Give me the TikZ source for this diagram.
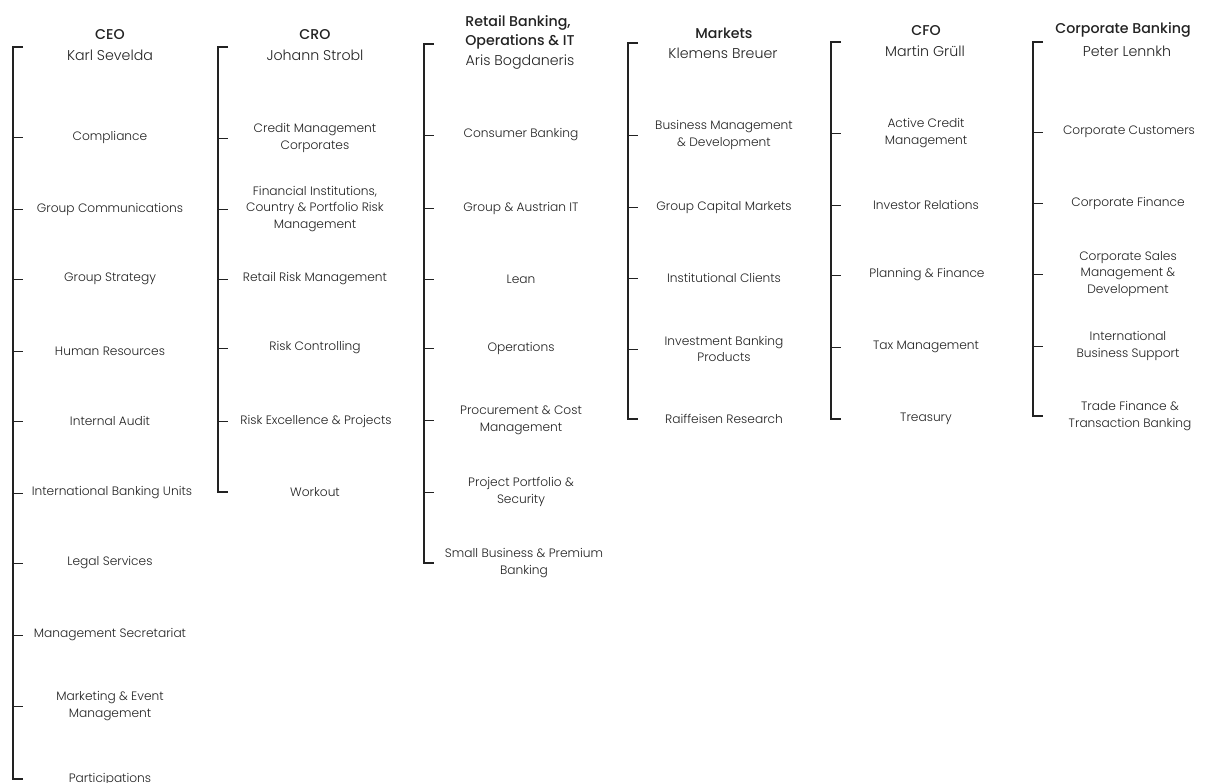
\documentclass[tikz,border=0pt]{standalone}
\usepackage{fontspec}
\setmainfont{Poppins}[UprightFont=* Light, BoldFont=* Medium]
\definecolor{ink}{HTML}{222222}
\newcommand{\itemfont}{\fontsize{12.2}{16.8}\selectfont}
\newcommand{\namefont}{\fontsize{14.2}{17}\selectfont}
\newcommand{\headfont}{\fontsize{14.2}{17}\selectfont\bfseries}
\tikzset{
  spine/.style={draw=ink, line width=1.3pt},
  twig/.style={draw=ink, line width=0.9pt},
  item/.style={align=center, inner sep=0pt, font=\itemfont, text=ink},
  headtitle/.style={align=center, inner sep=0pt, font=\headfont, text=ink},
  headname/.style={align=center, inner sep=0pt, font=\namefont, text=ink},
}
\begin{document}
\begin{tikzpicture}[x=1pt,y=-1pt]
\useasboundingbox (0,0) rectangle (1205,782);

% ---------------- CEO
\coordinate (ceoT) at (13,47);
\node[headtitle] (ceoH) at (110,35) {CEO};
\node[headname] (ceoN) at (110,55) {Karl Sevelda};
\node[item] (ceo1) at (110,137) {Compliance};
\node[item] (ceo2) at (110,209) {Group Communications};
\node[item] (ceo3) at (110,279) {Group Strategy};
\node[item] (ceo4) at (110,351) {Human Resources};
\node[item] (ceo5) at (110,421) {Internal Audit};
\node[item] (ceo6) at (112,493) {International Banking Units};
\node[item] (ceo7) at (110,563) {Legal Services};
\node[item] (ceo8) at (110,635) {Management Secretariat};
\node[item] (ceo9) at (110,706) {Marketing \& Event\\Management};
\node[item] (ceo10) at (110,779) {Participations};
\draw[spine] ([xshift=10pt]ceoT) -- (ceoT) -- (ceoT |- ceo10) -- ++(10,0);
\foreach \n in {1,...,9} \draw[twig] (ceoT |- ceo\n) -- ++(10,0);

% ---------------- CRO
\coordinate (croT) at (218,47);
\node[headtitle] (croH) at (315,35) {CRO};
\node[headname] (croN) at (315,55) {Johann Strobl};
\node[item] (cro1) at (315,138) {Credit Management\\Corporates};
\node[item] (cro2) at (315,209) {Financial Institutions,\\Country \& Portfolio Risk\\Management};
\node[item] (cro3) at (315,279) {Retail Risk Management};
\node[item] (cro4) at (315,348) {Risk Controlling};
\node[item] (cro5) at (316,421) {Risk Excellence \& Projects};
\node[item] (cro6) at (315,492) {Workout};
\draw[spine] ([xshift=10pt]croT) -- (croT) -- (croT |- cro6) -- ++(10,0);
\foreach \n in {1,...,5} \draw[twig] (croT |- cro\n) -- ++(10,0);

% ---------------- Retail Banking
\coordinate (rbT) at (424,44);
\node[headtitle] (rbH1) at (518,23) {Retail Banking,};
\node[headtitle] (rbH2) at (520,42) {Operations \& IT};
\node[headname] (rbN) at (520,62) {Aris Bogdaneris};
\node[item] (rb1) at (521,135) {Consumer Banking};
\node[item] (rb2) at (521,208) {Group \& Austrian IT};
\node[item] (rb3) at (521,279) {Lean};
\node[item] (rb4) at (521,348) {Operations};
\node[item] (rb5) at (521,420) {Procurement \& Cost\\Management};
\node[item] (rb6) at (521,492) {Project Portfolio \&\\Security};
\node[item] (rb7) at (524,563) {Small Business \& Premium\\Banking};
\draw[spine] ([xshift=10pt]rbT) -- (rbT) -- (rbT |- rb7) -- ++(10,0);
\foreach \n in {1,...,6} \draw[twig] (rbT |- rb\n) -- ++(10,0);

% ---------------- Markets
\coordinate (mkT) at (628,43);
\node[headtitle] (mkH) at (724,33) {Markets};
\node[headname] (mkN) at (723,53) {Klemens Breuer};
\node[item] (mk1) at (724,135) {Business Management\\\& Development};
\node[item] (mk2) at (724,207) {Group Capital Markets};
\node[item] (mk3) at (724,278) {Institutional Clients};
\node[item] (mk4) at (724,349) {Investment Banking\\Products};
\node[item] (mk5) at (724,419) {Raiffeisen Research};
\draw[spine] ([xshift=10pt]mkT) -- (mkT) -- (mkT |- mk5) -- ++(10,0);
\foreach \n in {1,...,4} \draw[twig] (mkT |- mk\n) -- ++(10,0);

% ---------------- CFO
\coordinate (cfT) at (831,42);
\node[headtitle] (cfH) at (926,31) {CFO};
\node[headname] (cfN) at (925,51) {Martin Grüll};
\node[item] (cf1) at (926,133) {Active Credit\\Management};
\node[item] (cf2) at (926,205) {Investor Relations};
\node[item] (cf3) at (927,275) {Planning \& Finance};
\node[item] (cf4) at (926,347) {Tax Management};
\node[item] (cf5) at (926,419) {Treasury};
\draw[spine] ([xshift=10pt]cfT) -- (cfT) -- (cfT |- cf5) -- ++(10,0);
\foreach \n in {1,...,4} \draw[twig] (cfT |- cf\n) -- ++(10,0);

% ---------------- Corporate Banking
\coordinate (cbT) at (1033,42);
\node[headtitle] (cbH) at (1123,30) {Corporate Banking};
\node[headname] (cbN) at (1127,51) {Peter Lennkh};
\node[item] (cb1) at (1129,132) {Corporate Customers};
\node[item] (cb2) at (1128,203) {Corporate Finance};
\node[item] (cb3) at (1128,274) {Corporate Sales\\Management \&\\Development};
\node[item] (cb4) at (1128,346) {International\\Business Support};
\node[item] (cb5) at (1130,416) {Trade Finance \&\\Transaction Banking};
\draw[spine] ([xshift=10pt]cbT) -- (cbT) -- (cbT |- cb5) -- ++(10,0);
\foreach \n in {1,...,4} \draw[twig] (cbT |- cb\n) -- ++(10,0);
\end{tikzpicture}
\end{document}
